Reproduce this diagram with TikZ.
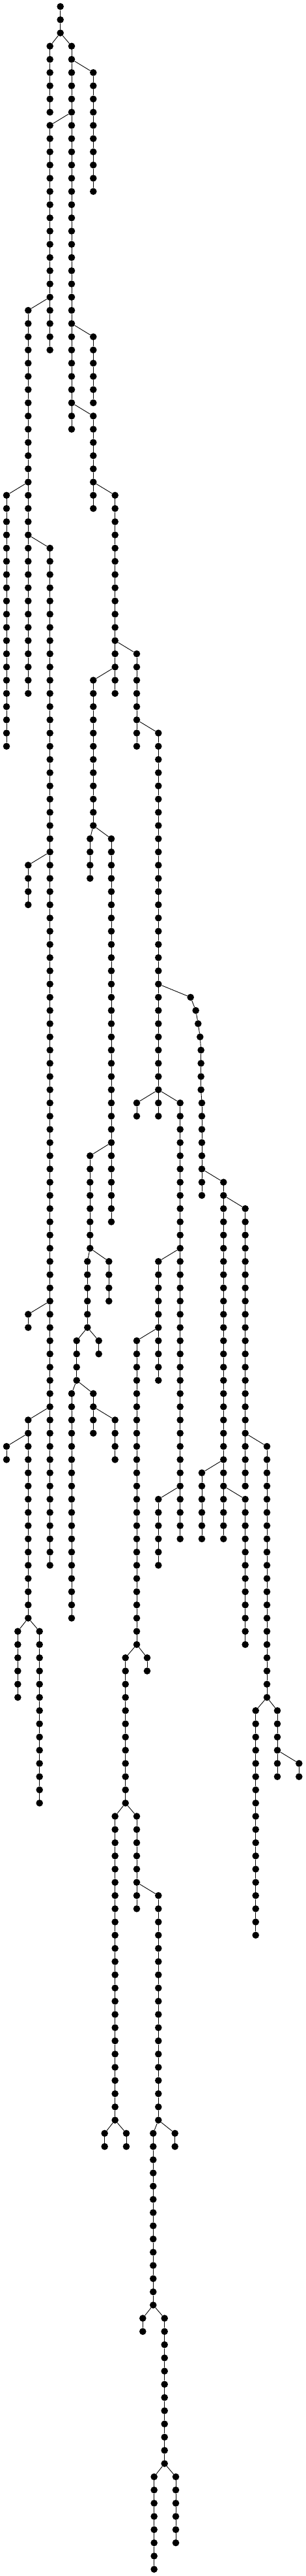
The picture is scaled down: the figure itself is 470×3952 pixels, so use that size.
\documentclass[tikz,border=0pt]{standalone}

% a vertical run of dots: name, x, first row, last row
\newcommand{\dotchain}[4]{%
  \foreach \rw [remember=\rw as \prv (initially #3)] in {#3,...,#4}{
    \node[dot] (#1-\rw) at (#2,{10+20.266*\rw}) {};
    \ifnum\rw>#3 \draw[link] (#1-\prv) -- (#1-\rw);\fi
  }}

\begin{document}
\begin{tikzpicture}[x=1pt, y=-1pt,
    dot/.style={circle, fill=black, inner sep=0pt, minimum size=10.6pt},
    link/.style={draw=black, line width=0.9pt}]
    \useasboundingbox (0,0) rectangle (470,3952);
    \dotchain{a}{92.7}{0}{2}
    \dotchain{b}{76.7}{3}{8}
    \dotchain{c}{110}{3}{32}
    \dotchain{d}{143.3}{5}{14}
    \dotchain{e}{76.7}{9}{26}
    \dotchain{f}{43.3}{23}{52}
    \dotchain{g}{143.3}{25}{30}
    \dotchain{h}{143.3}{31}{38}
    \dotchain{i}{10}{37}{56}
    \dotchain{j}{76.7}{41}{118}
    \dotchain{k}{176.7}{37}{52}
    \dotchain{l}{210}{49}{56}
    \dotchain{m}{43.3}{65}{68}
    \dotchain{n}{143.3}{51}{62}
    \dotchain{o}{138.3}{63}{66}
    \dotchain{p}{171}{63}{92}
    \dotchain{q}{243.3}{55}{84}
    % the bent run
    \foreach \rw/\xx in {75/292.7,76/300.7,77/304.3,78/307.3,79/308.7,80/308.7,81/308.7,82/308.7}
        \node[dot] (r-\rw) at (\xx,{10+20.266*\rw}) {};
    \dotchain{r}{310}{83}{90}
    \foreach \rw [remember=\rw as \prv (initially 75)] in {76,...,83}
        \draw[link] (r-\prv) -- (r-\rw);
    \dotchain{s}{210}{83}{84}
    \dotchain{t}{276.7}{83}{116}
    \dotchain{u}{43.3}{99}{100}
    \dotchain{v}{138.3}{87}{94}
    \dotchain{w}{167.3}{95}{98}
    \dotchain{x}{134.3}{95}{100}
    \dotchain{y}{151.7}{101}{102}
    \dotchain{z}{117.7}{101}{104}
    \dotchain{aa}{243.3}{95}{104}
    \dotchain{ab}{210}{101}{124}
    \dotchain{ac}{343.3}{89}{116}
    \dotchain{ad}{376.7}{91}{112}
    \dotchain{ae}{43.3}{107}{122}
    \dotchain{af}{10}{109}{110}
    \dotchain{ag}{110}{105}{122}
    \dotchain{ah}{143.3}{105}{108}
    \dotchain{ai}{176.7}{107}{110}
    \dotchain{aj}{243.3}{113}{118}
    \dotchain{ak}{310}{111}{116}
    \dotchain{al}{376.7}{113}{124}
    \dotchain{am}{410}{109}{128}
    \dotchain{ba}{27.3}{123}{128}
    \dotchain{bb}{60.7}{123}{136}
    \dotchain{bc}{192.7}{125}{136}
    \dotchain{bd}{226}{125}{126}
    \dotchain{be}{392.7}{129}{146}
    \dotchain{bf}{426}{129}{134}
    \dotchain{bg}{459.3}{133}{134}
    \dotchain{bh}{176.7}{137}{160}
    \dotchain{bi}{210}{137}{144}
    \dotchain{bj}{243.3}{143}{160}
    \dotchain{bk}{160.7}{161}{162}
    \dotchain{bl}{194}{161}{162}
    \dotchain{bm}{235.3}{161}{174}
    \dotchain{bn}{268.7}{161}{162}
    \dotchain{bo}{219.3}{175}{176}
    \dotchain{bp}{252.7}{175}{186}
    \dotchain{bq}{236.7}{187}{194}
    \dotchain{br}{270}{187}{192}
    % branchings
    \foreach \from/\to in {a-2/b-3, a-2/c-3, c-4/d-5, c-8/e-9, e-22/f-23, c-24/g-25,
        c-30/h-31, f-36/i-37, f-40/j-41, h-36/k-37, k-48/l-49, j-64/m-65, k-50/n-51,
        n-62/o-63, n-62/p-63, l-54/q-55, q-74/r-75, q-82/s-83, q-82/t-83, j-98/u-99,
        p-86/v-87, v-94/w-95, v-94/x-95, x-100/y-101, x-100/z-101, t-94/aa-95,
        aa-100/ab-101, r-88/ac-89, ac-90/ad-91, j-106/ae-107, ae-108/af-109,
        z-104/ag-105, z-104/ah-105, ah-106/ai-107, t-112/aj-113, ac-110/ak-111,
        ac-112/al-113, ad-108/am-109, ae-122/ba-123, ae-122/bb-123, ab-124/bc-125,
        ab-124/bd-125, am-128/be-129, am-128/bf-129, bf-132/bg-133, bc-136/bh-137,
        bc-136/bi-137, bi-142/bj-143, bh-160/bk-161, bh-160/bl-161, bj-160/bm-161,
        bj-160/bn-161, bm-174/bo-175, bm-174/bp-175, bp-186/bq-187, bp-186/br-187}
        \draw[link] (\from) -- (\to);
\end{tikzpicture}
\end{document}
